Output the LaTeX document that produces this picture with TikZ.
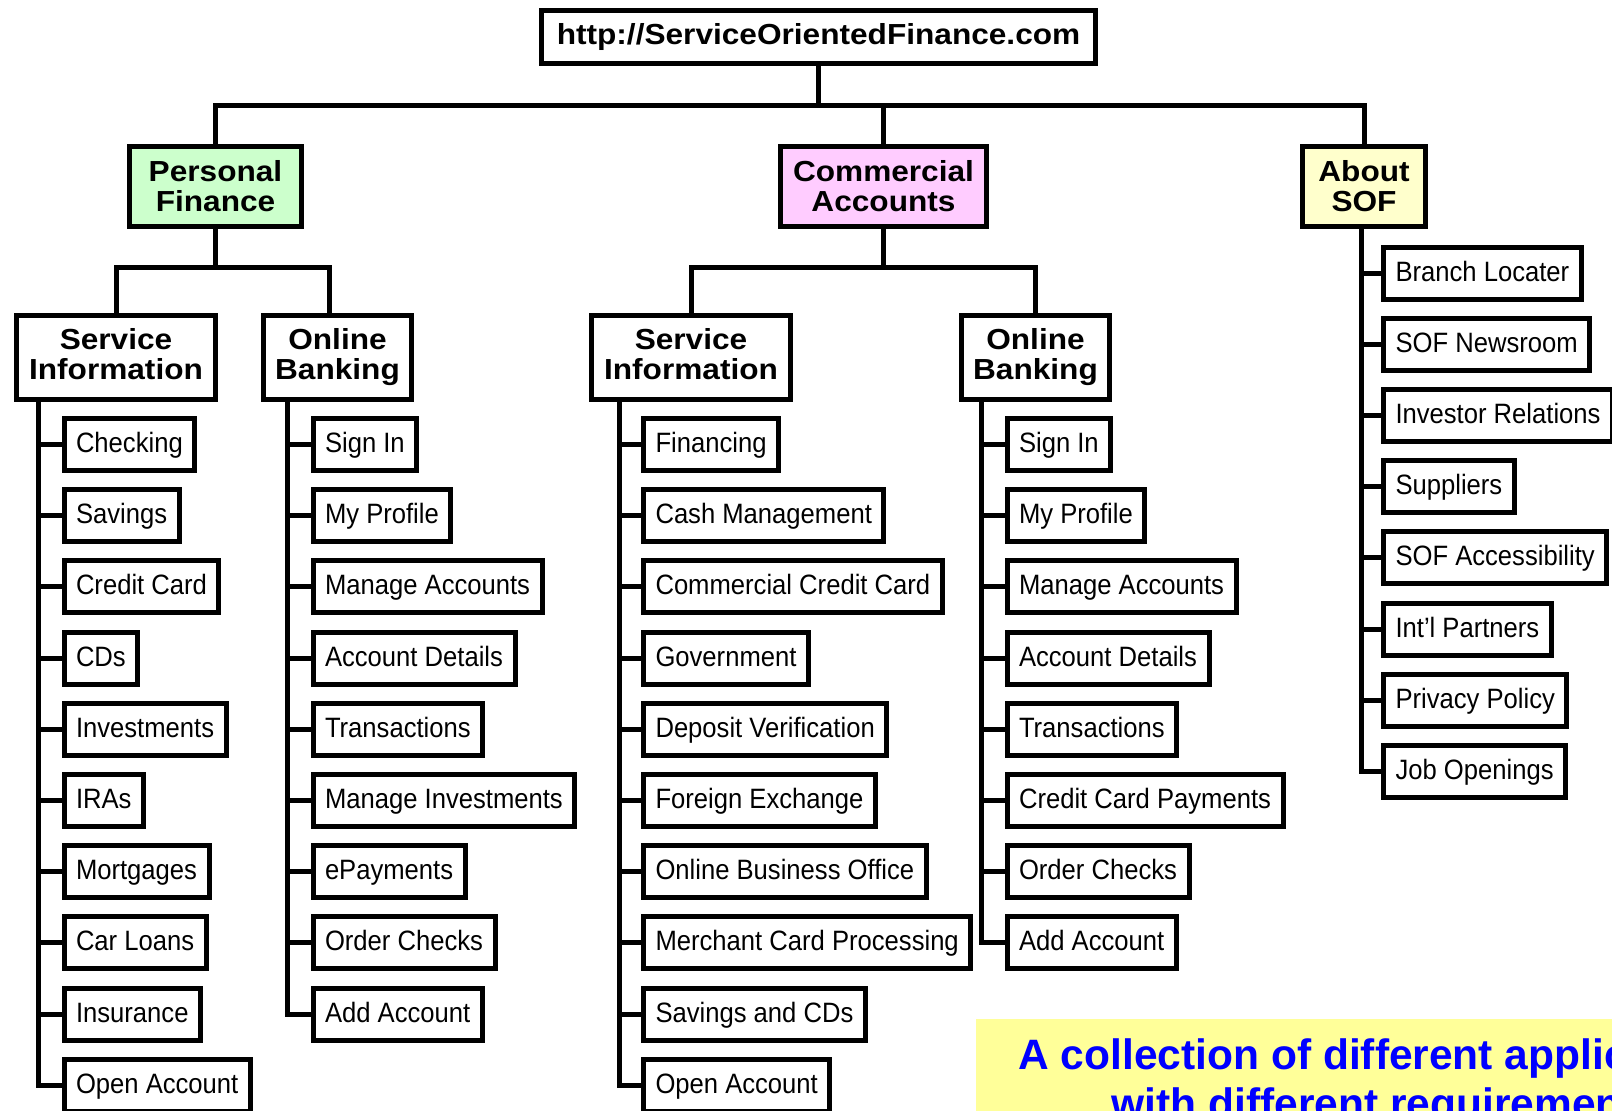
\documentclass[tikz,border=0pt]{standalone}
\usepackage{fontspec}
\setmainfont{Liberation Sans}
\newfontfamily\wideface{Liberation Sans}[FakeStretch=1.09]
\newfontfamily\leafface{Liberation Sans}[FakeStretch=0.915]
\usetikzlibrary{calc}
\definecolor{pfgreen}{HTML}{CCFFCC}
\definecolor{capink}{HTML}{FFCCFF}
\definecolor{sofyellow}{HTML}{FFFFCC}
\definecolor{noteyellow}{HTML}{FFFF99}
\definecolor{noteblue}{HTML}{0000FF}

\begin{document}
\begin{tikzpicture}[x=1pt,y=-1pt,line width=5pt,
        head/.style={draw,fill=white,align=center,inner xsep=12pt,
            font=\wideface\fontsize{29}{30}\selectfont\bfseries},
        subhead/.style={head,minimum height=84pt,text depth=7pt},
        leaf/.style={draw,fill=white,anchor=west,minimum height=52pt,inner xsep=12pt,
            text height=20pt,text depth=4pt,font=\leafface\fontsize{28}{30}\selectfont},
        notebox/.style={fill=noteyellow,text=noteblue,align=center,inner xsep=43pt,inner ysep=20pt,
            font=\fontsize{42.5}{49}\selectfont\bfseries}]
    \path[use as bounding box] (0,0) rectangle (1612,1111);
    \clip (0,0) rectangle (1612,1111);
    \fill[white] (0,0) rectangle (1612,1111);

    % site and main sections
    \node[head,inner xsep=15pt,minimum height=53pt] (root) at (818.5,37) {http://ServiceOrientedFinance.com};
    \node[head,fill=pfgreen,minimum width=172pt,minimum height=80pt] (pf) at (215.5,186.5) {Personal\\Finance};
    \node[head,fill=capink,minimum width=206pt,minimum height=80pt] (ca) at (883.5,186.5) {Commercial\\Accounts};
    \node[head,fill=sofyellow,minimum width=123pt,minimum height=80pt] (sof) at (1364,186.5) {About\\SOF};

    \node[subhead,minimum width=199pt] (psi) at (116,357.5) {Service\\Information};
    \node[subhead,minimum width=148pt] (pob) at (337.5,357.5) {Online\\Banking};
    \node[subhead,minimum width=199pt] (csi) at (691,357.5) {Service\\Information};
    \node[subhead,minimum width=148pt] (cob) at (1035.5,357.5) {Online\\Banking};

    \coordinate (bus) at (0,105);
    \coordinate (pbar) at (0,267);
    \coordinate (pobin) at ([xshift=-8.5pt]pob.north);
    \draw (root.south) -- (root |- bus);
    \draw (pf.north) |- (sof.north |- bus) -- (sof.north);
    \draw (ca.north) -- (ca.north |- bus);
    \draw (pf.south) -- (pf.south |- pbar);
    \draw (psi.north) |- (pobin |- pbar) -- (pobin);
    \draw (ca.south) -- (ca.south |- pbar);
    \draw (csi.north) |- (cob.north |- pbar) -- (cob.north);

    % leaves
    \foreach \txt [count=\i] in {Checking,Savings,Credit Card,CDs,Investments,IRAs,Mortgages,Car Loans,Insurance,Open Account}
        \node[leaf] (psi-\i) at (61.5,373.3+71.2*\i) {\txt};
    \foreach \txt [count=\i] in {Sign In,My Profile,Manage Accounts,Account Details,Transactions,Manage Investments,ePayments,Order Checks,Add Account}
        \node[leaf] (pob-\i) at (310.5,373.3+71.2*\i) {\txt};
    \foreach \txt [count=\i] in {Financing,Cash Management,Commercial Credit Card,Government,Deposit Verification,Foreign Exchange,Online Business Office,Merchant Card Processing,Savings and CDs,Open Account}
        \node[leaf] (csi-\i) at (641,373.3+71.2*\i) {\txt};
    \foreach \txt [count=\i] in {Sign In,My Profile,Manage Accounts,Account Details,Transactions,Credit Card Payments,Order Checks,Add Account}
        \node[leaf] (cob-\i) at (1004.5,373.3+71.2*\i) {\txt};
    \foreach \txt [count=\i] in {Branch Locater,SOF Newsroom,Investor Relations,Suppliers,SOF Accessibility,Int’l Partners,Privacy Policy,Job Openings}
        \node[leaf] (sof-\i) at (1381,201.8+71.2*\i) {\txt};

    % trunks and ticks
    \coordinate (psitrunk) at (38,0);
    \coordinate (pobtrunk) at (287,0);
    \coordinate (csitrunk) at (619,0);
    \coordinate (cobtrunk) at (981,0);
    \coordinate (softrunk) at (1361,0);
    \draw (psi.south -| psitrunk) |- (psi-10.west);
    \draw (pob.south -| pobtrunk) |- (pob-9.west);
    \draw (csi.south -| csitrunk) |- (csi-10.west);
    \draw (cob.south -| cobtrunk) |- (cob-8.west);
    \draw (sof.south -| softrunk) |- (sof-8.west);
    \foreach \i in {1,...,9}
        \draw (psi-\i.west) -- (psi-\i.west -| psitrunk);
    \foreach \i in {1,...,8}
        \draw (pob-\i.west) -- (pob-\i.west -| pobtrunk);
    \foreach \i in {1,...,9}
        \draw (csi-\i.west) -- (csi-\i.west -| csitrunk);
    \foreach \i in {1,...,7}
        \draw (cob-\i.west) -- (cob-\i.west -| cobtrunk);
    \foreach \i in {1,...,7}
        \draw (sof-\i.west) -- (sof-\i.west -| softrunk);

    \node[notebox,anchor=north west] (note) at (973,1016) {A collection of different applications\\with different requirements};
\end{tikzpicture}
\end{document}
